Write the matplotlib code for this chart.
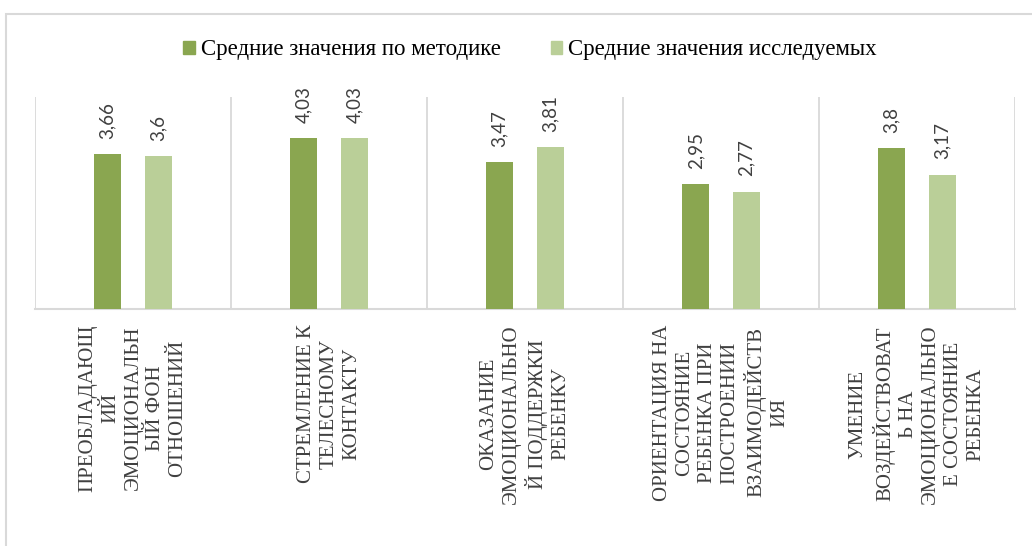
import numpy as np
import matplotlib
matplotlib.use("Agg")
import matplotlib.pyplot as plt
from matplotlib.patches import Patch, Rectangle

# Data
categories = [
    "ПРЕОБЛАДАЮЩ\nИЙ\nЭМОЦИОНАЛЬН\nЫЙ ФОН\nОТНОШЕНИЙ",
    "СТРЕМЛЕНИЕ К\nТЕЛЕСНОМУ\nКОНТАКТУ",
    "ОКАЗАНИЕ\nЭМОЦИОНАЛЬНО\nЙ ПОДДЕРЖКИ\nРЕБЕНКУ",
    "ОРИЕНТАЦИЯ НА\nСОСТОЯНИЕ\nРЕБЕНКА ПРИ\nПОСТРОЕНИИ\nВЗАИМОДЕЙСТВ\nИЯ",
    "УМЕНИЕ\nВОЗДЕЙСТВОВАТ\nЬ НА\nЭМОЦИОНАЛЬНО\nЕ СОСТОЯНИЕ\nРЕБЕНКА",
]
method_vals = [3.66, 4.03, 3.47, 2.95, 3.8]
subject_vals = [3.6, 4.03, 3.81, 2.77, 3.17]
series_names = ["Средние значения по методике", "Средние значения исследуемых"]

DARK = "#8aa650"
LIGHT = "#bacf98"
GRID = "#d9d9d9"

fig = plt.figure(figsize=(10.32, 5.46), dpi=100)
ax = fig.add_axes([35 / 1032, 237 / 546, 980 / 1032, 212 / 546])

x = np.arange(len(categories))
w = 0.133
off = 0.13
b1 = ax.bar(x - off, method_vals, w, color=DARK, zorder=3)
b2 = ax.bar(x + off, subject_vals, w, color=LIGHT, zorder=3)

def fmt(v):
    return ("%g" % v).replace(".", ",")

for bars, vals in ((b1, method_vals), (b2, subject_vals)):
    for r, v in zip(bars, vals):
        ax.annotate(fmt(v), (r.get_x() + r.get_width() / 2, v),
                    xytext=(0, 11), textcoords="offset points",
                    rotation=90, ha="center", va="bottom",
                    fontsize=13.5, family="Lato", color="#404040")

ax.set_xlim(-0.5, len(categories) - 0.5)
ax.set_ylim(0, 5)
ax.set_yticks([])
for b in np.arange(len(categories) + 1) - 0.5:
    ax.axvline(b, color=GRID, lw=1.3, zorder=1)

for s in ["top", "right", "left"]:
    ax.spines[s].set_visible(False)
ax.spines["bottom"].set_color(GRID)
ax.spines["bottom"].set_linewidth(1.5)

ax.set_xticks(x)
ax.set_xticklabels(categories, rotation=90, family="Liberation Serif",
                   fontsize=15, color="#404040", linespacing=1.25,
                   multialignment="center", va="top")
ax.tick_params(axis="x", length=0, pad=11)

# chart border (partly cropped in the source)
fig.patches.append(Rectangle((6 / 1032, -0.2), 1.2, 1.2 - 14 / 546,
                             transform=fig.transFigure, fill=False,
                             edgecolor=GRID, lw=1.5))

handles = [Patch(color=DARK), Patch(color=LIGHT)]
fig.legend(handles, series_names, loc="center", ncol=2,
           bbox_to_anchor=(530 / 1032, 1 - 50 / 546), frameon=False,
           prop={"family": "Liberation Serif", "size": 16.5},
           handlelength=0.5, handleheight=0.5, handletextpad=0.25,
           columnspacing=2.2)

fig.savefig("out.png", dpi=100)
